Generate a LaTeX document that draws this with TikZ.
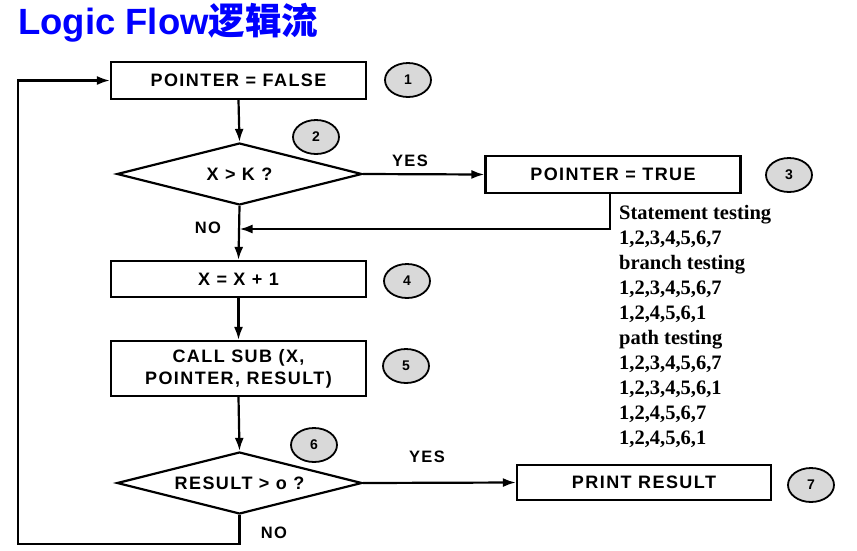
\documentclass[tikz,border=0pt]{standalone}
\usepackage{fontspec}
\setmainfont{Liberation Serif}
\newfontfamily\titlefont{Liberation Sans}
\newfontfamily\cjkfont{Noto Sans CJK SC}
\newfontfamily\flowfont[LetterSpace=8]{Liberation Sans}
\usetikzlibrary{shapes.geometric,arrows.meta}
\tikzset{
  box/.style={draw, line width=2.2pt, minimum width=255pt, inner sep=0pt, font=\flowfont\bfseries\fontsize{18}{22}\selectfont, align=center},
  dia/.style={draw, diamond, line width=2.2pt, minimum width=245pt, minimum height=62pt, aspect=4, inner sep=0pt, font=\flowfont\bfseries\fontsize{18}{20}\selectfont},
  num/.style={draw, ellipse, line width=1.8pt, fill=black!15, minimum width=46pt, minimum height=34pt, inner sep=0pt, font=\flowfont\bfseries\fontsize{14}{16}\selectfont},
  lbl/.style={font=\flowfont\bfseries\fontsize{16.5}{18}\selectfont},
  arr/.style={line width=2.2pt, -{Latex[length=13pt,width=9pt]}},
}
\begin{document}
\begin{tikzpicture}[x=1pt,y=-1pt]
\useasboundingbox (0,0) rectangle (857,550);
% title
\node[anchor=west, inner sep=0pt, text=blue] (title) at (18,23)
  {\titlefont\bfseries\fontsize{36.5}{40}\selectfont Logic Flow\cjkfont\bfseries 逻辑流};
% boxes
\node[box, minimum height=37pt] (b1) at (238.5,80.5) {POINTER = FALSE};
\node[num] (n1) at (408,80) {1};
\node[dia] (d2) at (239.5,174) {X > K ?};
\node[num] (n2) at (316,137) {2};
\node[box, minimum height=37pt] (b3) at (613,174.5) {POINTER = TRUE};
\node[num] (n3) at (789,175) {3};
\node[box, minimum height=36pt] (b4) at (238.5,279) {X = X + 1};
\node[num] (n4) at (407,281) {4};
\node[box, minimum height=55pt] (b5) at (238.5,368.5) {CALL SUB (X,\\POINTER, RESULT)};
\node[num] (n5) at (406,366) {5};
\node[dia] (d6) at (239.5,483) {RESULT > o ?};
\node[num] (n6) at (314,445) {6};
\node[box, minimum height=35pt, minimum width=254pt] (b7) at (644,482.5) {PRINT RESULT};
\node[num] (n7) at (811,485) {7};
% labels
\node[lbl] (yes1) at (410,161) {YES};
\node[lbl] (no1) at (208,228) {NO};
\node[lbl] (yes2) at (427,457) {YES};
\node[lbl] (no2) at (274,533) {NO};
% coordinates
\coordinate (j) at (239.5,229);
\coordinate (lb) at (18,544);
% connectors
\draw[arr] (b1.south) -- (d2.north);
\draw[arr] (d2.east) -- (b3.west);
\draw[arr] (d2.south) -- (b4.north);
\draw[arr] ([xshift=-3pt]b3.south) |- (j);
\draw[arr] (b4.south) -- (b5.north);
\draw[arr] (b5.south) -- (d6.north);
\draw[arr] (d6.east) -- (b7.west);
\draw[arr] (d6.south) |- (lb) |- (b1.west);
% testing text
\node[anchor=north west, inner sep=0pt, align=left, font=\bfseries\fontsize{20.5}{25}\selectfont] (tests) at (619,205)
{Statement testing\\
1,2,3,4,5,6,7\\
branch testing\\
1,2,3,4,5,6,7\\
1,2,4,5,6,1\\
path testing\\
1,2,3,4,5,6,7\\
1,2,3,4,5,6,1\\
1,2,4,5,6,7\\
1,2,4,5,6,1};
\end{tikzpicture}
\end{document}
